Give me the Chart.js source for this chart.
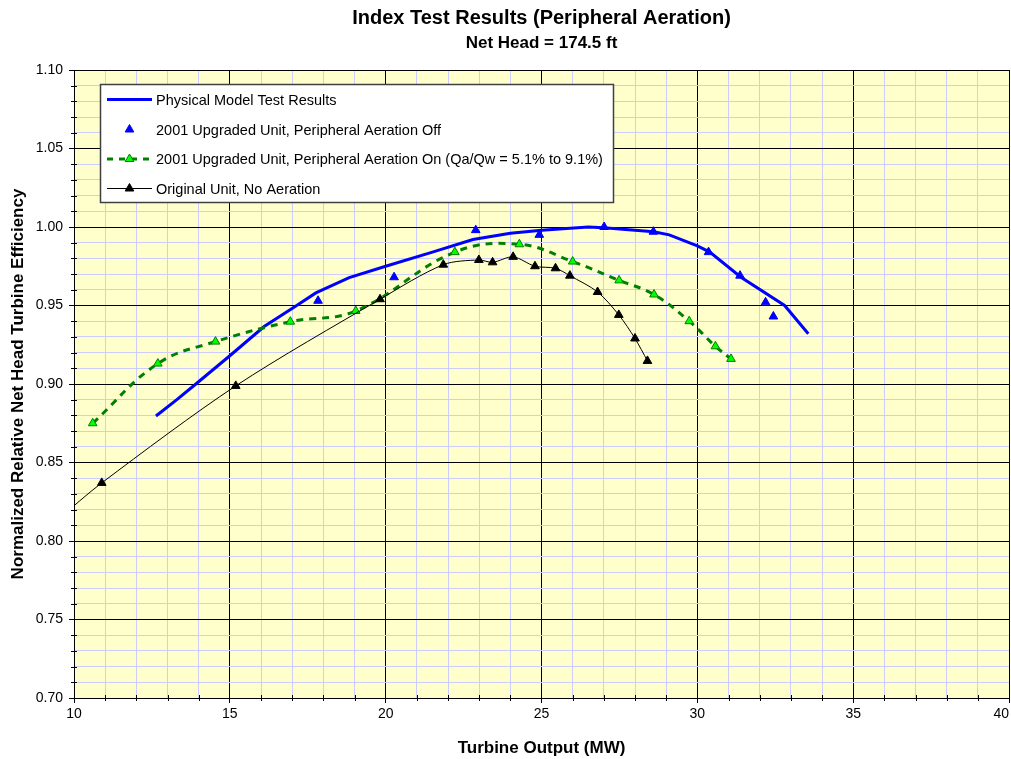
<!DOCTYPE html>
<html>
<head>
<meta charset="utf-8">
<script src="https://cdn.jsdelivr.net/npm/chart.js@4/dist/chart.umd.min.js"></script>
<style>
  html, body { margin: 0; padding: 0; background: #ffffff; }
  #wrap { width: 1011px; height: 759px; position: relative; }
</style>
</head>
<body>
<div id="wrap"><canvas id="c" width="1011" height="759"></canvas></div>
<script>
// ---- Text ----
const chartTitle = "Index Test Results (Peripheral Aeration)";
const chartSubtitle = "Net Head = 174.5 ft";
const xAxisTitle = "Turbine Output (MW)";
const yAxisTitle = "Normalized Relative Net Head Turbine Efficiency";
const seriesNames = [
  "Physical Model Test Results",
  "2001 Upgraded Unit, Peripheral Aeration Off",
  "2001 Upgraded Unit, Peripheral Aeration On (Qa/Qw = 5.1% to 9.1%)",
  "Original Unit, No Aeration"
];

// ---- Axis ranges / ticks ----
const xMin = 10, xMax = 40, xMajorStep = 5, xMinorStep = 1;
const yMin = 0.70, yMax = 1.10, yMajorStep = 0.05, yMinorStep = 0.01;

// ---- Series: Physical Model Test Results (line) ----
const modelX = [12.63, 13.3, 13.91, 15.0, 16.1, 17.12, 17.76, 18.83, 20.0, 21.5, 22.8, 24.0, 25.0, 26.5, 27.0, 28.6, 29.1, 30.0, 30.4, 31.4, 32.8, 33.56];
const modelY = [0.8796, 0.890, 0.900, 0.918, 0.9366, 0.9497, 0.958, 0.9678, 0.975, 0.984, 0.992, 0.996, 0.998, 1.000, 0.9995, 0.997, 0.995, 0.988, 0.984, 0.968, 0.950, 0.932];

// ---- Series: 2001 Upgraded Unit, Aeration Off (markers) ----
const offX = [17.83, 20.27, 22.89, 24.93, 27.01, 28.59, 30.36, 31.37, 32.19, 32.44];
const offY = [0.953, 0.968, 0.998, 0.995, 1.000, 0.997, 0.984, 0.969, 0.952, 0.943];

// ---- Series: 2001 Upgraded Unit, Aeration On (dashed + markers) ----
const onX = [10.6, 12.69, 14.54, 16.94, 19.04, 22.22, 24.29, 26.0, 27.49, 28.61, 29.74, 30.58, 31.08];
const onY = [0.875, 0.913, 0.927, 0.9397, 0.9465, 0.984, 0.989, 0.978, 0.966, 0.957, 0.940, 0.924, 0.916];

// ---- Series: Original Unit, No Aeration (thin line + markers) ----
const origX = [9.5, 10.89, 15.19, 19.82, 21.85, 22.99, 23.43, 24.09, 24.79, 25.45, 25.91, 26.80, 27.48, 28.0, 28.40];
const origY = [0.814, 0.837, 0.8988, 0.954, 0.976, 0.979, 0.9775, 0.981, 0.975, 0.9737, 0.969, 0.9586, 0.944, 0.929, 0.9147];

function pts(xs, ys) { return xs.map((x, i) => ({ x: x, y: ys[i] })); }

const FONT = '"Liberation Sans", Arial, sans-serif';
const isMajor = (v, step) => Math.abs(v / step - Math.round(v / step)) < 1e-6;

const bgPlugin = {
  id: 'bg',
  beforeDraw(chart) {
    const ctx = chart.ctx, a = chart.chartArea;
    ctx.save();
    ctx.fillStyle = '#ffffff';
    ctx.fillRect(0, 0, chart.width, chart.height);
    ctx.fillStyle = '#FFFFCC';
    ctx.fillRect(a.left, a.top, a.right - a.left, a.bottom - a.top);
    ctx.restore();
  }
};

function tri(ctx, x, y, r, fill, stroke) {
  ctx.beginPath();
  ctx.moveTo(x, y - r);
  ctx.lineTo(x + 0.866 * r, y + 0.5 * r);
  ctx.lineTo(x - 0.866 * r, y + 0.5 * r);
  ctx.closePath();
  ctx.fillStyle = fill; ctx.fill();
  ctx.strokeStyle = stroke; ctx.lineWidth = 1; ctx.stroke();
}

const decoPlugin = {
  id: 'deco',
  afterDraw(chart) {
    const ctx = chart.ctx, a = chart.chartArea;
    const xs = chart.scales.x, ys = chart.scales.y;
    ctx.save();
    // minor tick marks
    ctx.strokeStyle = '#000'; ctx.lineWidth = 1;
    for (let v = xMin + xMinorStep; v < xMax; v += xMinorStep) {
      if (isMajor(v, xMajorStep)) continue;
      const px = Math.round(xs.getPixelForValue(v)) + 0.5;
      ctx.beginPath(); ctx.moveTo(px, a.bottom - 3); ctx.lineTo(px, a.bottom + 3); ctx.stroke();
    }
    for (let k = 1; k < Math.round((yMax - yMin) / yMinorStep); k++) {
      const v = yMin + k * yMinorStep;
      if (isMajor(v, yMajorStep)) continue;
      const py = Math.round(ys.getPixelForValue(v)) + 0.5;
      ctx.beginPath(); ctx.moveTo(a.left - 3, py); ctx.lineTo(a.left + 3, py); ctx.stroke();
    }
    // titles
    ctx.fillStyle = '#000';
    ctx.textAlign = 'center'; ctx.textBaseline = 'middle';
    const cx = (a.left + a.right) / 2;
    ctx.font = 'bold 20px ' + FONT;
    ctx.fillText(chartTitle, cx, 18);
    ctx.font = 'bold 17px ' + FONT;
    ctx.fillText(chartSubtitle, cx, 43);
    ctx.font = 'bold 17px ' + FONT;
    ctx.fillText(xAxisTitle, cx, 748);
    ctx.save();
    ctx.translate(18, (a.top + a.bottom) / 2);
    ctx.rotate(-Math.PI / 2);
    ctx.fillText(yAxisTitle, 0, 0);
    ctx.restore();

    // legend box
    const L = 100, T = 84, R = 614, B = 203;
    ctx.fillStyle = '#ffffff';
    ctx.fillRect(L, T, R - L, B - T);
    ctx.strokeStyle = '#404040'; ctx.lineWidth = 1.5;
    ctx.strokeRect(L + 0.5, T + 0.5, R - L - 1, B - T - 1);
    const rowY = [99.5, 129.5, 159, 188.5];
    const s0 = 107, s1 = 152, sm = 129.5;
    // row 1
    ctx.strokeStyle = '#0000FF'; ctx.lineWidth = 3;
    ctx.beginPath(); ctx.moveTo(s0, rowY[0]); ctx.lineTo(s1, rowY[0]); ctx.stroke();
    // row 2
    tri(ctx, sm, rowY[1], 5, '#0000FF', '#0000FF');
    // row 3
    ctx.save();
    ctx.strokeStyle = '#008000'; ctx.lineWidth = 3; ctx.setLineDash([6, 6]);
    ctx.beginPath(); ctx.moveTo(s0, rowY[2]); ctx.lineTo(s1, rowY[2]); ctx.stroke();
    ctx.restore();
    tri(ctx, sm, rowY[2], 5, '#00FF00', '#008000');
    // row 4
    ctx.strokeStyle = '#000000'; ctx.lineWidth = 1;
    ctx.beginPath(); ctx.moveTo(s0, rowY[3]); ctx.lineTo(s1, rowY[3]); ctx.stroke();
    tri(ctx, sm, rowY[3], 5, '#000000', '#000000');
    // legend text
    ctx.fillStyle = '#000'; ctx.textAlign = 'left'; ctx.textBaseline = 'middle';
    ctx.font = '14.5px ' + FONT;
    seriesNames.forEach((n, i) => ctx.fillText(n, 156, rowY[i] + 1));
    ctx.restore();
  }
};

const gridColor = (step) => (c) => {
  const v = c.tick ? c.tick.value : null;
  if (v === null) return '#CCCCFF';
  return isMajor(v, step) ? '#000000' : '#CCCCFF';
};
const tickColor = (step) => (c) => {
  const v = c.tick ? c.tick.value : null;
  return (v !== null && isMajor(v, step)) ? '#000000' : 'rgba(0,0,0,0)';
};

new Chart(document.getElementById('c'), {
  type: 'scatter',
  data: {
    datasets: [
      {
        label: seriesNames[0], data: pts(modelX, modelY), showLine: true,
        borderColor: '#0000FF', borderWidth: 3, pointRadius: 0, tension: 0, order: 4
      },
      {
        label: seriesNames[1], data: pts(offX, offY), showLine: false,
        pointStyle: 'triangle', pointRadius: 5, backgroundColor: '#0000FF',
        borderColor: '#0000FF', pointBorderWidth: 1, order: 3
      },
      {
        label: seriesNames[2], data: pts(onX, onY), showLine: true,
        borderColor: '#008000', borderWidth: 3, borderDash: [7, 6], tension: 0.4,
        pointStyle: 'triangle', pointRadius: 5, pointBackgroundColor: '#00FF00',
        pointBorderColor: '#008000', pointBorderWidth: 1, order: 2
      },
      {
        label: seriesNames[3], data: pts(origX, origY), showLine: true,
        borderColor: '#000000', borderWidth: 1, tension: 0.3,
        pointStyle: 'triangle', pointRadius: 5, pointBackgroundColor: '#000000',
        pointBorderColor: '#000000', pointBorderWidth: 1, order: 1
      }
    ]
  },
  options: {
    responsive: false,
    animation: false,
    events: [],
    layout: { autoPadding: false, padding: { top: 70, right: 2, left: 0, bottom: 0 } },
    plugins: { legend: { display: false }, title: { display: false }, tooltip: { enabled: false } },
    scales: {
      x: {
        type: 'linear', min: xMin, max: xMax,
        afterFit: (s) => { s.height = 61; s.paddingLeft = 0; s.paddingRight = 0; },
        border: { display: true, color: '#000', width: 1 },
        grid: { color: gridColor(xMajorStep), lineWidth: 1, tickLength: 5, tickColor: tickColor(xMajorStep) },
        ticks: {
          stepSize: xMinorStep, autoSkip: false, maxRotation: 0, padding: 3,
          color: '#000', font: { family: FONT, size: 14 },
          callback: (v) => isMajor(v, xMajorStep)
            ? (Math.round(v) === xMax ? String(xMax) + '\u00a0\u00a0\u00a0\u00a0' : String(Math.round(v)))
            : ''
        }
      },
      y: {
        type: 'linear', min: yMin, max: yMax,
        afterFit: (s) => { s.width = 74; s.paddingTop = 0; s.paddingBottom = 0; },
        border: { display: true, color: '#000', width: 1 },
        grid: { color: gridColor(yMajorStep), lineWidth: 1, tickLength: 5, tickColor: tickColor(yMajorStep) },
        ticks: {
          stepSize: yMinorStep, autoSkip: false, padding: 6,
          color: '#000', font: { family: FONT, size: 14 },
          callback: (v) => isMajor(v, yMajorStep) ? v.toFixed(2) : ''
        }
      }
    }
  },
  plugins: [bgPlugin, decoPlugin]
});
</script>
</body>
</html>
